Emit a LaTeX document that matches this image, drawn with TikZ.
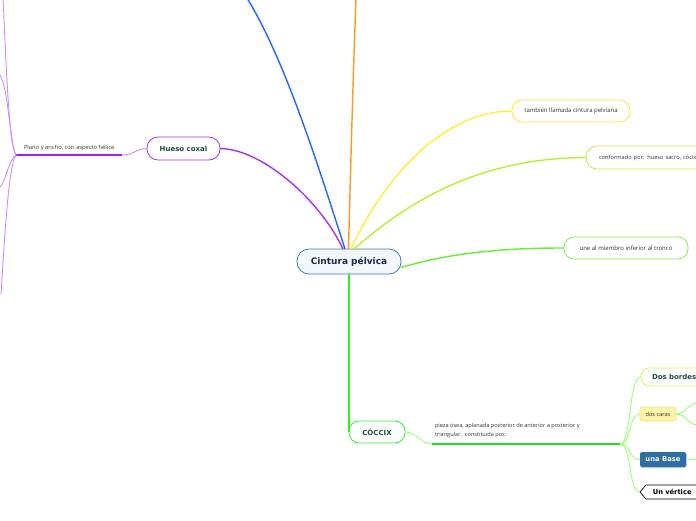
\documentclass[tikz,border=0pt]{standalone}
\usepackage{fontspec}
\setmainfont{Open Sans}
\newfontfamily\titlefont{DejaVu Sans}
\usetikzlibrary{shapes.symbols,shadows}
\definecolor{cblue}{HTML}{3A7EC4}
\definecolor{cfill}{HTML}{F3F8FD}
\definecolor{navy}{HTML}{1B2A48}
\definecolor{dgreen}{HTML}{1D4D3D}
\definecolor{ptext}{HTML}{333333}
\definecolor{purpleMain}{HTML}{A333F0}
\definecolor{purpleDeep}{HTML}{9922EE}
\definecolor{purpleLight}{HTML}{CC8CFF}
\definecolor{blueL}{HTML}{2266FF}
\definecolor{orangeL}{HTML}{FF9922}
\definecolor{yellowL}{HTML}{FFEE33}
\definecolor{ygL}{HTML}{BBEE33}
\definecolor{uneL}{HTML}{66EE33}
\definecolor{greenDown}{HTML}{33EE22}
\definecolor{greenUnder}{HTML}{22DD22}
\definecolor{lgreen}{HTML}{99FF77}
\definecolor{tambB}{HTML}{FFE833}
\definecolor{confB}{HTML}{BBEE44}
\definecolor{uneB}{HTML}{88EE44}
\definecolor{coccB}{HTML}{33EE33}
\definecolor{dosbB}{HTML}{DDEE55}
\definecolor{carasF}{HTML}{FFF3A8}
\definecolor{carasB}{HTML}{F2E28E}
\definecolor{baseF}{HTML}{2D6EA6}
\tikzset{
  bubble/.style={draw, line width=0.8pt, fill=white, align=center},
  titletext/.style={font=\titlefont\bfseries\fontsize{7}{8}\selectfont, text=dgreen},
  smalltext/.style={font=\fontsize{6}{7}\selectfont, text=ptext},
  mainline/.style={line width=1.4pt},
  subline/.style={line width=0.9pt}
}
\begin{document}
\begin{tikzpicture}[x=1pt,y=-1pt, every node/.style={inner sep=0pt, outer sep=0pt}]
\useasboundingbox (0,0) rectangle (696,520);
\clip (0,0) rectangle (696,520);

% nodes
\node[bubble, draw=cblue, fill=cfill, minimum width=104pt, minimum height=25pt, rounded corners=12pt,
      font=\titlefont\bfseries\fontsize{9}{10}\selectfont, text=navy] (root) at (349,261.5) {Cintura pélvica};
\node[bubble, draw=purpleMain, minimum width=73pt, minimum height=23pt, rounded corners=11pt, titletext] (hueso) at (183.5,148.5) {Hueso coxal};
\node[bubble, draw=tambB, minimum width=118pt, minimum height=22pt, rounded corners=10pt, smalltext] (tamb) at (571,111) {también llamada cintura pelviana};
\node[bubble, draw=confB, minimum width=130pt, minimum height=23pt, rounded corners=11pt, smalltext, font=\fontsize{5.7}{7}\selectfont, text width=104pt, align=left] (conf) at (651,157.5) {conformado por: hueso sacro, cócix};
\node[bubble, draw=uneB, minimum width=124pt, minimum height=22pt, rounded corners=10pt, smalltext] (une) at (626,248) {une al miembro inferior al tronco};
\node[bubble, draw=coccB, minimum width=56pt, minimum height=22pt, rounded corners=10pt, titletext] (cocc) at (377,432) {CÓCCIX};
\node[anchor=north west, smalltext, font=\fontsize{5.6}{9}\selectfont, align=left] (pieza) at (435,423.5) {pieza ósea, aplanada posterior de anterior a posterior y\\triangular.\ \ constituida pos:};
\coordinate (pl) at (432,444);
\coordinate (pr) at (620,444);
\node[bubble, draw=dosbB, minimum width=76pt, minimum height=18pt, rounded corners=8pt, titletext, text width=54pt, align=left] (dosb) at (679,377) {Dos bordes};
\node[draw=carasB, fill=carasF, line width=0.6pt, rounded corners=2pt, minimum width=36pt, minimum height=14pt, smalltext, font=\fontsize{5.6}{6}\selectfont] (caras) at (658,414) {dos caras};
\node[fill=baseF, rounded corners=2pt, minimum width=46pt, minimum height=15pt, drop shadow={shadow xshift=0.8pt, shadow yshift=-1pt, opacity=0.35},
      font=\titlefont\bfseries\fontsize{6.8}{7}\selectfont, text=white] (base) at (663,459.5) {una Base};
\node[signal, signal to=west, signal pointer angle=100, draw=black, line width=0.7pt, fill=white, minimum height=14pt, anchor=west,
      font=\titlefont\bfseries\fontsize{6.7}{7}\selectfont, text=black, text width=52pt, align=left, inner xsep=7pt] (vert) at (640,492) {Un vértice};
\node[anchor=south west, smalltext, font=\fontsize{5.8}{6}\selectfont] (plano) at (24,151) {Plano y ancho, con aspecto hélice};
\coordinate (hl) at (122,155);
\coordinate (hj) at (16,155);
\coordinate (t1) at (3,-2);
\coordinate (t2) at (-1,74);
\coordinate (t3) at (-1,188);
\coordinate (t4) at (1,294);
\coordinate (ot) at (356,-2);
\coordinate (blt) at (247,-2);
\coordinate (c1) at (698,403);
\coordinate (c2) at (698,425);
\coordinate (b1) at (698,459.5);

% main connectors
\draw[mainline, purpleMain] ([xshift=-6pt]root.north) .. controls (320,200) and (262,149) .. (hueso.east);
\draw[mainline, blueL] ([xshift=-4pt]root.north) .. controls (318,165) and (285,60) .. (blt);
\draw[mainline, orangeL] ([xshift=-0.5pt]root.north) .. controls (351,150) and (354,50) .. (ot);
\draw[mainline, yellowL] ([xshift=2pt]root.north) .. controls (385,175) and (445,111) .. (tamb.west);
\draw[mainline, ygL] ([xshift=5pt]root.north) .. controls (410,200) and (480,158) .. (conf.west);
\draw[mainline, uneL] ([yshift=-6pt]root.east) .. controls (460,250) and (520,248) .. (une.west);
\draw[mainline, greenDown] (root.south) -- (cocc.west);

% coccix branch
\draw[subline, lgreen] (cocc.east) .. controls (418,432) and (420,444) .. (pl);
\draw[line width=1.6pt, greenUnder] (pl) -- (pr);
\draw[subline, lgreen] (pr) .. controls (632,444) and (628,377) .. (dosb.west);
\draw[subline, lgreen] (pr) .. controls (632,444) and (628,414) .. (caras.west);
\draw[subline, lgreen] (pr) .. controls (632,444) and (628,459.5) .. (base.west);
\draw[subline, lgreen] (pr) .. controls (632,444) and (628,492) .. (vert.west);
\draw[subline, lgreen] (caras.east) .. controls (686,414) and (688,403) .. (c1);
\draw[subline, lgreen] (caras.east) .. controls (686,414) and (688,425) .. (c2);
\draw[subline, lgreen] (base.east) -- (b1);

% hueso branch
\draw[subline, purpleLight] (hueso.west) .. controls (135,149) and (134,155) .. (hl);
\draw[line width=1.6pt, purpleDeep] (hl) -- (hj);
\draw[subline, purpleLight] (hj) .. controls (9,148) and (6,60) .. (t1);
\draw[subline, purpleLight] (hj) .. controls (10,145) and (8,82) .. (t2);
\draw[subline, purpleLight] (hj) .. controls (8,160) and (6,183) .. (t3);
\draw[subline, purpleLight] (hj) .. controls (8,166) and (4,250) .. (t4);
\end{tikzpicture}
\end{document}
